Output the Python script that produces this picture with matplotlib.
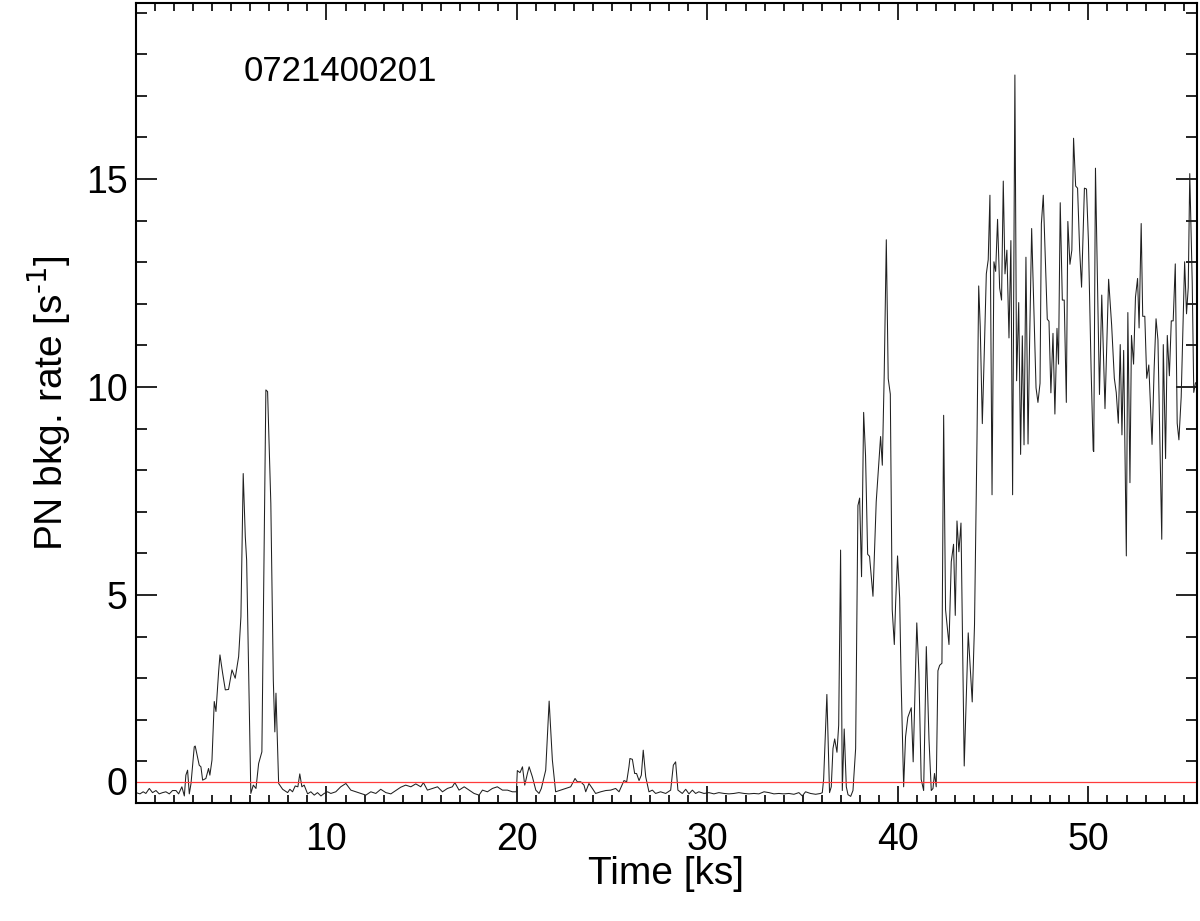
import numpy as np
import matplotlib
matplotlib.use('Agg')
import matplotlib.pyplot as plt
from matplotlib.ticker import MultipleLocator, FixedLocator

# light curve: time [ks] and PN background rate [1/s]
time_ks = [
    0.00, 0.21, 0.38, 0.52, 0.70, 0.87, 1.05, 1.22, 1.40, 1.57, 1.75, 1.92, 2.10, 2.24, 2.41, 2.54,
    2.62, 2.71, 2.80, 2.89, 3.06, 3.11, 3.32, 3.41, 3.50, 3.67, 3.81, 3.88, 3.99, 4.11, 4.20, 4.34,
    4.41, 4.55, 4.69, 4.86, 5.04, 5.21, 5.39, 5.51, 5.63, 5.74, 5.81, 6.03, 6.16, 6.30, 6.44, 6.61,
    6.82, 6.91, 7.08, 7.21, 7.29, 7.35, 7.49, 7.70, 7.96, 8.08, 8.22, 8.36, 8.50, 8.60, 8.71, 8.83,
    9.01, 9.18, 9.36, 9.53, 9.71, 9.88, 10.06,
    10.23, 10.49, 10.75, 11.02, 11.28, 11.54, 11.80, 12.07, 12.33, 12.59, 12.85, 13.12, 13.38, 13.64,
    13.90, 14.16, 14.43, 14.69, 14.95, 15.09, 15.30, 15.56, 15.83, 16.09, 16.35, 16.61, 16.74, 16.96,
    17.23, 17.49, 17.75, 18.01, 18.19, 18.45, 18.71, 18.97, 19.24, 19.50, 19.76, 19.97, 20.02, 20.16,
    20.29, 20.41, 20.55, 20.64, 20.81, 20.99, 21.16, 21.28, 21.51, 21.69, 21.86, 22.03, 22.30, 22.56,
    22.82, 23.05, 23.17, 23.35, 23.52, 23.61, 23.78, 23.96, 24.13, 24.40, 24.66, 24.92, 25.18, 25.36,
    25.62, 25.76, 25.88, 25.93, 26.06, 26.18, 26.28, 26.41, 26.53, 26.63, 26.76, 26.93, 27.11, 27.28,
    27.54, 27.81, 28.07, 28.21, 28.33, 28.45, 28.68, 28.86, 29.03, 29.21, 29.38, 29.55, 29.82, 30.08,
    30.34, 30.60, 30.87, 31.13, 31.39, 31.65, 31.92, 32.18, 32.44, 32.70, 32.97, 33.23, 33.49, 33.75,
    34.01, 34.28, 34.54, 34.80, 34.98, 35.15, 35.41, 35.68, 35.94,
    36.03, 36.10, 36.27, 36.41, 36.50, 36.59, 36.68, 36.80, 36.89, 36.99, 37.08, 37.18, 37.29, 37.38,
    37.52, 37.64, 37.78, 37.90, 37.99, 38.09, 38.20, 38.30, 38.41, 38.51, 38.69, 38.86, 39.09, 39.18,
    39.28, 39.39, 39.49, 39.60, 39.70, 39.81, 39.88, 39.98, 40.09, 40.17, 40.30, 40.40, 40.52, 40.70,
    40.80, 40.99, 41.10, 41.22, 41.35, 41.49, 41.63, 41.75, 41.84, 41.92, 42.01, 42.10, 42.19, 42.31,
    42.40, 42.50, 42.68, 42.80, 42.92, 43.01, 43.10, 43.20, 43.31, 43.48, 43.69, 43.90, 44.02,
    44.15, 44.24, 44.32, 44.43, 44.53, 44.64, 44.74, 44.83, 44.94, 45.04, 45.13, 45.23, 45.34, 45.44,
    45.53, 45.62, 45.72, 45.83, 45.93, 46.02, 46.14, 46.23, 46.34, 46.44, 46.53, 46.62, 46.72, 46.83,
    46.91, 47.02, 47.12, 47.25, 47.35, 47.46, 47.53, 47.63, 47.74, 47.84, 47.93, 48.03, 48.14, 48.24,
    48.35, 48.43, 48.52, 48.63, 48.73, 48.84, 48.92, 49.03, 49.13, 49.22, 49.33, 49.43, 49.54, 49.64,
    49.79, 49.90, 50.00, 50.14, 50.25, 50.28, 50.37, 50.49, 50.58, 50.70, 50.87, 51.06, 51.22, 51.36,
    51.46, 51.57, 51.67, 51.76, 51.85, 51.99, 52.07, 52.18, 52.26, 52.37, 52.47, 52.58, 52.66, 52.77,
    52.85, 52.96, 53.06, 53.17, 53.34, 53.45, 53.55, 53.65, 53.85, 53.93, 54.05, 54.14, 54.25, 54.35,
    54.45, 54.56, 54.66, 54.75, 54.87, 55.05, 55.15, 55.24, 55.32, 55.45, 55.53, 55.62,
]
rate = [
    0.25, 0.22, 0.27, 0.23, 0.35, 0.25, 0.30, 0.22, 0.25, 0.27, 0.22, 0.30, 0.30, 0.22, 0.39, 0.17,
    0.67, 0.79, 0.22, 0.47, 1.35, 1.37, 0.91, 0.87, 0.55, 0.59, 0.83, 0.67, 1.03, 2.44, 2.20, 3.16,
    3.56, 3.12, 2.72, 2.73, 3.20, 3.00, 3.52, 4.48, 7.92, 6.40, 5.84, 0.23, 0.43, 0.35, 0.95, 1.23,
    9.93, 9.89, 7.20, 2.96, 1.71, 2.64, 0.47, 0.33, 0.25, 0.33, 0.27, 0.41, 0.39, 0.70, 0.39, 0.43,
    0.22, 0.27, 0.19, 0.25, 0.17, 0.23, 0.27,
    0.23, 0.27, 0.39, 0.47, 0.31, 0.27, 0.23, 0.19, 0.27, 0.23, 0.33, 0.25, 0.22, 0.30,
    0.38, 0.43, 0.39, 0.46, 0.39, 0.49, 0.31, 0.35, 0.39, 0.27, 0.35, 0.39, 0.49, 0.31,
    0.39, 0.31, 0.23, 0.19, 0.31, 0.27, 0.35, 0.39, 0.31, 0.31, 0.27, 0.27, 0.78, 0.73,
    0.87, 0.43, 0.71, 0.87, 0.63, 0.31, 0.23, 0.35, 0.79, 2.45, 1.03, 0.27, 0.31, 0.35,
    0.39, 0.59, 0.51, 0.51, 0.43, 0.27, 0.47, 0.35, 0.23, 0.27, 0.30, 0.31, 0.35, 0.27,
    0.54, 0.51, 0.87, 1.07, 1.05, 0.71, 0.71, 0.54, 0.67, 1.27, 0.63, 0.27, 0.31, 0.23,
    0.27, 0.23, 0.31, 0.91, 0.99, 0.31, 0.23, 0.33, 0.22, 0.31, 0.23, 0.27, 0.23, 0.25,
    0.22, 0.25, 0.23, 0.22, 0.23, 0.25, 0.23, 0.22, 0.23, 0.22, 0.27, 0.25, 0.22, 0.23,
    0.22, 0.23, 0.21, 0.25, 0.17, 0.27, 0.23, 0.21, 0.23,
    0.25, 0.57, 2.61, 0.25, 0.39, 1.31, 1.54, 1.22, 1.87, 6.08, 0.30, 1.78, 0.39, 0.20,
    0.16, 0.30, 1.31, 7.15, 7.33, 5.44, 9.39, 8.35, 5.98, 5.93, 4.97, 7.24, 8.81, 8.12,
    10.30, 13.54, 10.20, 9.83, 4.65, 3.81, 4.81, 5.94, 4.93, 2.89, 0.39, 1.59, 2.06, 2.29,
    0.99, 4.33, 3.15, 0.57, 0.30, 3.76, 1.54, 0.30, 0.35, 0.71, 0.39, 3.18, 3.31, 3.36,
    9.32, 4.65, 3.81, 5.80, 6.22, 4.51, 6.78, 6.04, 6.73, 0.89, 4.09, 2.43, 4.28,
    8.72, 12.43, 11.46, 9.12, 10.78, 12.72, 13.06, 14.61, 7.41, 13.01, 12.78, 14.03, 12.38, 12.09,
    14.95, 12.72, 13.29, 11.18, 13.52, 7.41, 17.50, 10.15, 12.03, 8.38, 11.23, 8.61, 13.12, 8.63,
    11.01, 13.81, 12.15, 9.98, 9.63, 10.09, 13.92, 14.61, 13.06, 11.63, 11.58, 9.86, 11.29, 9.35,
    11.41, 10.55, 14.43, 12.09, 12.09, 9.63, 13.98, 12.95, 13.29, 15.98, 14.83, 14.78, 13.29, 12.40,
    14.78, 14.76, 13.52, 10.44, 8.48, 8.45, 15.26, 12.16, 9.82, 12.21, 9.48, 12.59, 11.48, 10.21,
    9.87, 9.13, 11.02, 8.85, 10.88, 5.94, 11.79, 7.70, 11.24, 10.55, 12.16, 12.61, 11.42, 13.93,
    11.70, 11.70, 10.21, 10.53, 8.62, 10.44, 11.64, 11.13, 6.34, 11.02, 8.28, 11.24, 10.27, 11.59,
    11.59, 12.96, 9.13, 8.73, 9.76, 13.01, 11.76, 12.39, 15.13, 12.50, 9.87, 10.10,
]
threshold = 0.5
obs_id = '0721400201'
x_ticks = [10, 20, 30, 40, 50]
y_ticks = [0, 5, 10, 15]

plt.rcParams['font.family'] = ['Liberation Sans', 'DejaVu Sans']

fig = plt.figure(figsize=(12, 9.21), dpi=100)
ax = fig.add_axes([0.1133, 0.1281, 0.8842, 0.8686])

ax.plot(time_ks, rate, color='#202020', linewidth=0.75)
ax.axhline(threshold, color='#ff3b3b', linewidth=0.9)

ax.set_xlim(0, 55.7)
ax.set_ylim(0, 19.23)

ax.xaxis.set_major_locator(FixedLocator(x_ticks))
ax.xaxis.set_minor_locator(MultipleLocator(1))
ax.yaxis.set_major_locator(FixedLocator(y_ticks))
ax.yaxis.set_minor_locator(MultipleLocator(1))

for s in ax.spines.values():
    s.set_linewidth(1.5)
ax.tick_params(which='both', direction='in', top=True, right=True, width=1.2, colors='black')
ax.tick_params(axis='x', which='major', length=12, labelsize=27, pad=14)
ax.tick_params(axis='x', which='minor', length=6)
ax.tick_params(axis='y', which='major', length=15, labelsize=27, pad=6)
ax.tick_params(axis='y', which='minor', length=8)

# the 0 label sits on top of the axis like in the original
ax.yaxis.get_major_ticks()[0].label1.set_verticalalignment('bottom')

ax.set_xlabel('Time [ks]', fontsize=28, labelpad=-2)
ax.set_ylabel(r'PN bkg. rate [s$^{\text{-}1}$]', fontsize=28, labelpad=10)

ax.text(0.101, 0.915, obs_id, transform=ax.transAxes, fontsize=25, va='center', ha='left')

plt.savefig('out.png', dpi=100)
plt.close(fig)
